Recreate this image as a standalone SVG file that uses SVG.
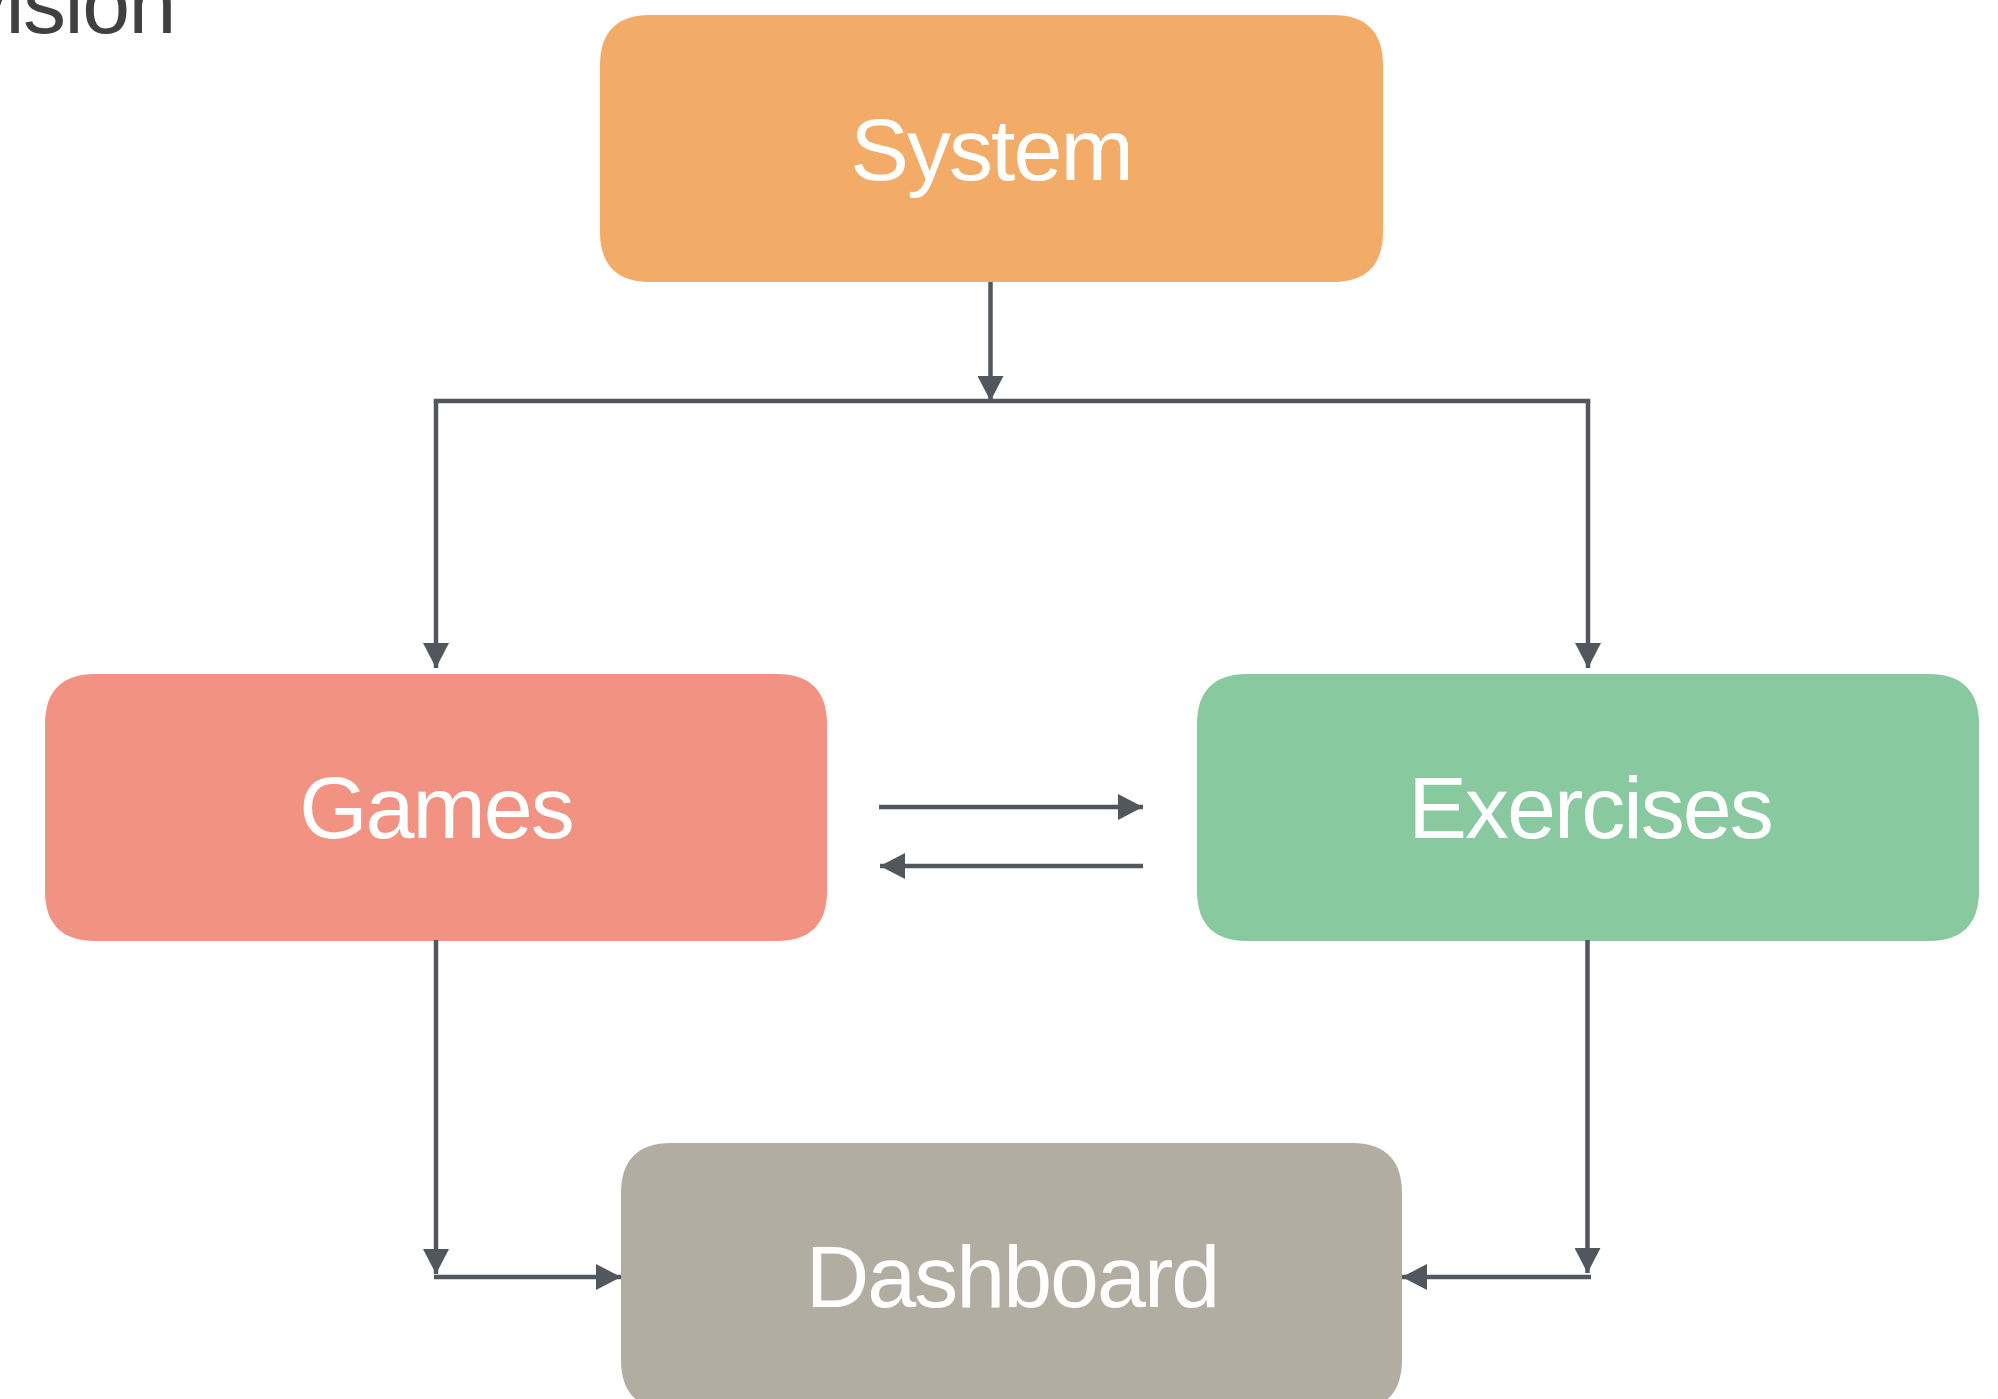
<svg xmlns="http://www.w3.org/2000/svg" width="1998" height="1399" viewBox="0 0 1998 1399">
  <defs>
    <style>
      .box { stroke: none; }
      .label { font-family: "Liberation Sans", Arial, Helvetica, sans-serif; font-size: 88px; letter-spacing: -2px; fill: #ffffff; text-anchor: middle; }
      .title { font-family: "Liberation Sans", Arial, Helvetica, sans-serif; font-size: 86px; letter-spacing: -1.5px; fill: #404040; }
      .edge { fill: none; stroke: #52575d; stroke-width: 4.5; }
    </style>
    <marker id="arrow" viewBox="0 0 25 26" refX="25" refY="13" markerWidth="25" markerHeight="26" markerUnits="userSpaceOnUse" orient="auto">
      <path d="M0 0 L25 13 L0 26 Z" fill="#52575d"/>
    </marker>
  </defs>

  <rect width="1998" height="1399" fill="#ffffff"/>

  <!-- page heading, running off the left edge -->
  <text class="title" x="-36" y="33">vision</text>

  <!-- nodes: rounded boxes with continuous (squircle-like) corners, r = 50 -->
  <g id="system">
    <path class="box" fill="#f3ac67" d="M600 65 C600 32 617 15 650 15 H1333 C1366 15 1383 32 1383 65 V232 C1383 265 1366 282 1333 282 H650 C617 282 600 265 600 232 Z"/>
    <text class="label" x="991" y="180">System</text>
  </g>
  <g id="games">
    <path class="box" fill="#f19282" d="M45 724 C45 691 62 674 95 674 H777 C810 674 827 691 827 724 V891 C827 924 810 941 777 941 H95 C62 941 45 924 45 891 Z"/>
    <text class="label" x="436" y="838">Games</text>
  </g>
  <g id="exercises">
    <path class="box" fill="#88c9a0" d="M1197 724 C1197 691 1214 674 1247 674 H1929 C1962 674 1979 691 1979 724 V891 C1979 924 1962 941 1929 941 H1247 C1214 941 1197 924 1197 891 Z"/>
    <text class="label" x="1590" y="838">Exercises</text>
  </g>
  <g id="dashboard">
    <path class="box" fill="#b1aea1" d="M621 1193 C621 1160 638 1143 671 1143 H1352 C1385 1143 1402 1160 1402 1193 V1360 C1402 1393 1385 1410 1352 1410 H671 C638 1410 621 1393 621 1360 Z"/>
    <text class="label" x="1012" y="1307">Dashboard</text>
  </g>

  <!-- connectors -->
  <g id="connectors">
    <path class="edge" d="M990.5 282 V401" marker-end="url(#arrow)"/>
    <path class="edge" d="M436 401 H1588" stroke-linecap="square"/>
    <path class="edge" d="M436 401 V668" marker-end="url(#arrow)"/>
    <path class="edge" d="M1588 401 V668" marker-end="url(#arrow)"/>
    <path class="edge" d="M879 807 H1143" marker-end="url(#arrow)"/>
    <path class="edge" d="M1143 866 H880" marker-end="url(#arrow)"/>
    <path class="edge" d="M436 940 V1274" marker-end="url(#arrow)"/>
    <path class="edge" d="M434 1277 H621" marker-end="url(#arrow)"/>
    <path class="edge" d="M1587.5 940 V1273" marker-end="url(#arrow)"/>
    <path class="edge" d="M1591 1277 H1402" marker-end="url(#arrow)"/>
  </g>
</svg>
